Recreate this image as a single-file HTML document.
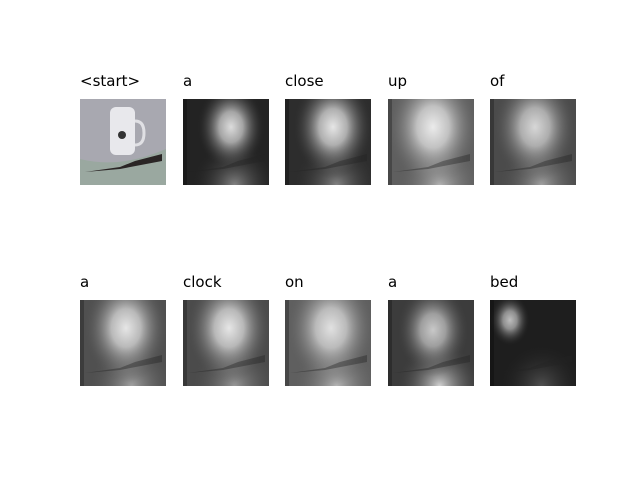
<!DOCTYPE html>
<html><head><meta charset="utf-8"><style>
body{margin:0;background:#fff;}
#c{position:relative;width:640px;height:480px;background:#fff;font-family:"DejaVu Sans","Liberation Sans",sans-serif;}
.t{position:absolute;font-size:15px;color:#000;line-height:1;}
.p{position:absolute;width:86px;height:86px;}
</style></head><body>
<div id="c"></div>
<script>
const words=["<start>","a","close","up","of","a","clock","on","a","bed"];
const bgLevel=[0,35,45,95,75,80,75,95,60,30];
const spotX=[0,48,48,45,45,46,46,46,45,20];
const spotY=[0,28,28,28,28,28,28,28,30,20];
const spotR=[0,34,40,46,42,42,42,44,36,20];
const spotI=[0,220,230,235,215,230,230,225,200,190];
const bottomI=[0,130,130,180,160,160,150,180,210,80];
const xs=[80,183,285,388,490];
const ys=[99,300];
const c=document.getElementById('c');
words.forEach((w,i)=>{
  const col=i%5,row=Math.floor(i/5);
  const x=xs[col],y=ys[row];
  const t=document.createElement('div');
  t.className='t';t.style.left=x+'px';t.style.top=(y-25)+'px';t.textContent=w;
  
  
  c.appendChild(t);
  const p=document.createElementNS('http://www.w3.org/2000/svg','svg');
  p.setAttribute('class','p');p.setAttribute('viewBox','0 0 86 86');
  p.style.left=x+'px';p.style.top=y+'px';
  
  
  let s='';
  if(i===0){
    s+='<rect width="86" height="86" fill="#a8a8b0"/>';
    s+='<path d="M0 60 Q40 70 86 50 L86 86 L0 86Z" fill="#9aa8a0"/>';
    s+='<rect x="30" y="8" width="25" height="48" rx="6" fill="#e8e8ec"/>';
    s+='<path d="M55 22 q9 0 9 12 q0 12 -9 12" stroke="#e0e0e4" stroke-width="3" fill="none"/>';
    s+='<circle cx="42" cy="36" r="4" fill="#333"/>';
    s+='<path d="M5 73 L40 68 L55 62 L82 55 L82 62 L40 70 Z" fill="#2a2525"/>';
  }else{
    const b=bgLevel[i],g='g'+i,h='h'+i;
    s+=`<defs><radialGradient id="${g}" cx="${spotX[i]/86}" cy="${spotY[i]/86}" r="${spotR[i]/86}" gradientTransform="translate(0 ${-spotY[i]/86*0.3}) scale(1 1.3)"><stop offset="0" stop-color="rgb(${spotI[i]},${spotI[i]},${spotI[i]})"/><stop offset="0.35" stop-color="rgb(${spotI[i]},${spotI[i]},${spotI[i]})" stop-opacity="0.7"/><stop offset="1" stop-color="rgb(${b},${b},${b})" stop-opacity="0"/></radialGradient>`;
    s+=`<radialGradient id="${h}" cx="0.6" cy="1" r="0.5"><stop offset="0" stop-color="rgb(${bottomI[i]},${bottomI[i]},${bottomI[i]})"/><stop offset="1" stop-color="rgb(${b},${b},${b})" stop-opacity="0"/></radialGradient></defs>`;
    s+=`<rect width="86" height="86" fill="rgb(${b},${b},${b})"/>`;
    s+=`<rect width="86" height="86" fill="url(#${h})"/>`;
    s+=`<rect width="86" height="86" fill="url(#${g})"/>`;
    s+=`<path d="M5 73 L40 68 L55 62 L82 55 L82 62 L40 70 Z" fill="#222" opacity="0.4"/>`;
    s+=`<rect width="4" height="86" fill="#000" opacity="0.25"/>`;
  }
  p.innerHTML=s;
  c.appendChild(p);
});
</script>
</body></html>
